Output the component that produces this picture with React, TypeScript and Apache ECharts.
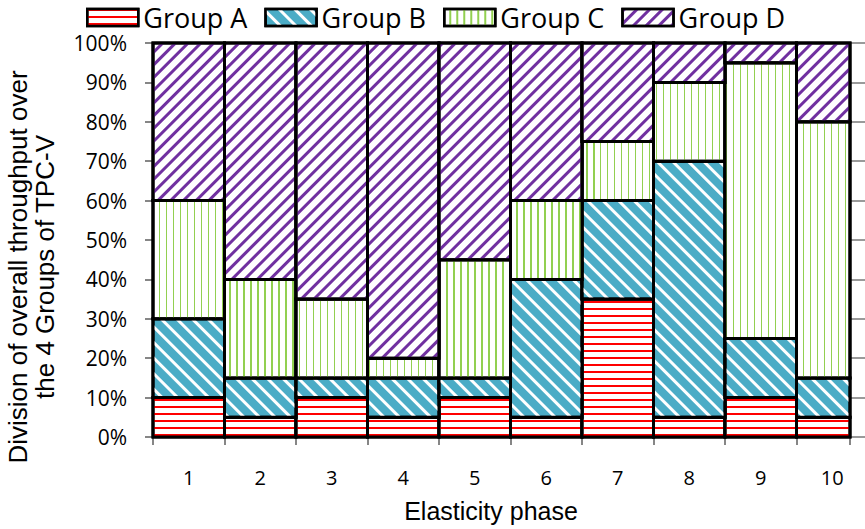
import React, { useEffect, useRef } from "react";
import * as echarts from "echarts";

const categories = ["1", "2", "3", "4", "5", "6", "7", "8", "9", "10"];
const groupA = [10, 5, 10, 5, 10, 5, 35, 5, 10, 5];
const groupB = [20, 10, 5, 10, 5, 35, 25, 65, 15, 10];
const groupC = [30, 25, 20, 5, 30, 20, 15, 20, 70, 65];
const groupD = [40, 60, 65, 80, 55, 40, 25, 10, 5, 20];
const seriesNames = ["Group A", "Group B", "Group C", "Group D"];

const GRID_LEFT = 153;
const GRID_WIDTH = 697;
const BAND = 71.5;
const X_MAX = GRID_WIDTH / BAND;

export default function App() {
  const ref = useRef<HTMLDivElement>(null);
  useEffect(() => {
    document.body.style.margin = "0";
    if (!ref.current) return;
    const chart = echarts.init(ref.current, null, { renderer: "svg" });
    const values = [groupA, groupB, groupC, groupD];
    // stacked segments [xCenter, lower, upper]
    const segments = values.map((arr, s) =>
      categories.map((_, i) => {
        let lo = 0;
        for (let k = 0; k < s; k++) lo += values[k][i];
        return [i + 0.5, lo, lo + arr[i]];
      })
    );
    const decals: any[] = [
      { symbol: "rect", symbolSize: 1, color: "#ff0000", dashArrayX: [1, 0], dashArrayY: [2, 5], rotation: 0 },
      { symbol: "rect", symbolSize: 1, color: "#ffffff", dashArrayX: [1, 0], dashArrayY: [3, 8], rotation: Math.PI / 4 },
      { symbol: "rect", symbolSize: 1, color: "#92d050", dashArrayX: [1, 0], dashArrayY: [2, 5], rotation: Math.PI / 2 },
      { symbol: "rect", symbolSize: 1, color: "#7030a0", dashArrayX: [1, 0], dashArrayY: [3, 6], rotation: -Math.PI / 4 },
    ];
    const fills = ["#ffffff", "#4bacc6", "#ffffff", "#ffffff"];
    const axisGray = "#868686";
    chart.setOption({
      animation: false,
      backgroundColor: "#ffffff",
      legend: {
        left: 86,
        top: 4,
        padding: 0,
        icon: "rect",
        itemWidth: 51,
        itemHeight: 17,
        itemGap: 17,
        data: seriesNames,
        itemStyle: { borderColor: "#000", borderWidth: 2.5 },
        textStyle: { fontFamily: "Open Sans", fontSize: 27, color: "#000" },
      },
      grid: { left: GRID_LEFT, width: GRID_WIDTH, top: 43, bottom: 92, containLabel: false, outerBoundsMode: "none" },
      xAxis: [
        {
          type: "value",
          min: 0,
          max: X_MAX,
          interval: 1,
          axisLine: { show: true, onZero: false, lineStyle: { color: axisGray, width: 2 } },
          axisTick: { show: true, length: 8, lineStyle: { color: axisGray, width: 2 } },
          axisLabel: { show: false },
          splitLine: { show: false },
        },
        {
          type: "value",
          position: "bottom",
          min: 0,
          max: X_MAX,
          interval: 0.5,
          axisLine: { show: false, onZero: false },
          axisTick: { show: false },
          splitLine: { show: false },
          axisLabel: {
            margin: 30,
            fontFamily: "Open Sans",
            fontSize: 20,
            color: "#000",
            formatter: (v: number) => {
              const k = Math.round(v * 2);
              if (Math.abs(v * 2 - k) > 1e-6 || k % 2 !== 1) return "";
              return categories[(k - 1) / 2] ?? "";
            },
          },
          name: "Elasticity phase",
          nameLocation: "middle",
          nameGap: 61,
          nameTextStyle: { fontFamily: "Liberation Sans", fontSize: 25, color: "#000", padding: [0, 21, 0, 0] },
        },
      ],
      yAxis: [
        {
          type: "value",
          min: 0,
          max: 100,
          interval: 10,
          axisLine: { show: true, onZero: false, lineStyle: { color: axisGray, width: 2 } },
          axisTick: { show: true, length: 8, lineStyle: { color: axisGray, width: 2 } },
          splitLine: { show: false },
          axisLabel: { margin: 26, fontFamily: "Open Sans", fontSize: 21, color: "#000", formatter: "{value}%" },
          name: "Division of overall throughput over\nthe 4 Groups of TPC-V",
          nameLocation: "middle",
          nameGap: 95,
          nameTextStyle: { fontFamily: "Liberation Sans", fontSize: 26, lineHeight: 27, color: "#000", padding: [0, 54, 0, 0] },
        },
        {
          type: "value",
          position: "right",
          min: 0,
          max: 100,
          interval: 10,
          axisLine: { show: true, onZero: false, lineStyle: { color: axisGray, width: 2, opacity: 0 } },
          axisTick: { show: true, length: 15, lineStyle: { color: "#9a9a9a", width: 2, opacity: 1 } },
          axisLabel: { show: false },
          splitLine: { show: false },
        },
      ],
      series: seriesNames.map((name, s) => ({
        name,
        type: "custom",
        xAxisIndex: 0,
        yAxisIndex: 0,
        encode: { x: 0, y: [1, 2] },
        data: segments[s],
        itemStyle: { color: fills[s], decal: decals[s], borderColor: "#000", borderWidth: 2.5 },
        renderItem: (params: any, api: any) => {
          const x = api.value(0);
          const lo = api.value(1);
          const hi = api.value(2);
          const a = api.coord([x - 0.5, hi]);
          const b = api.coord([x + 0.5, lo]);
          const cs = params.coordSys;
          const r = echarts.graphic.clipRectByRect(
            { x: a[0], y: a[1], width: b[0] - a[0], height: b[1] - a[1] },
            { x: cs.x, y: cs.y, width: cs.width, height: cs.height }
          );
          if (!r) return null;
          return {
            type: "rect",
            shape: r,
            style: { fill: fills[s], stroke: "#000", lineWidth: 3, decal: decals[s] },
          };
        },
      })),
    });
    return () => chart.dispose();
  }, []);
  return <div ref={ref} style={{ width: 865, height: 529 }} />;
}
